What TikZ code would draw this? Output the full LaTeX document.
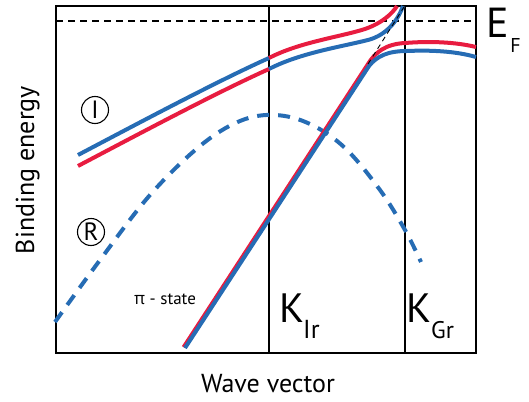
\documentclass[tikz,border=0pt]{standalone}
\usepackage{fontspec}
\setmainfont{PT Sans}
\newfontfamily\grkfont{Open Sans}
\definecolor{bandred}{RGB}{232,28,64}
\definecolor{bandblue}{RGB}{38,108,180}
\begin{document}
\begin{tikzpicture}[x=1pt,y=-1pt,
  band/.style={line width=4pt},
  frameline/.style={line width=2pt},
  kline/.style={line width=1.1pt},
  fermi/.style={line width=2pt, dash pattern=on 7pt off 5pt},
  guide/.style={line width=0.9pt, dash pattern=on 5pt off 4pt},
  surfdash/.style={bandblue, line width=4pt, dash pattern=on 12pt off 9pt},
  circled/.style={circle, draw, line width=1.1pt, minimum size=27pt, inner sep=0pt, font=\fontsize{25}{25}\selectfont},
  lbl/.style={inner sep=0pt}]
\useasboundingbox (0,0) rectangle (529,401);
% frame
\coordinate (tl) at (56,6);
\coordinate (br) at (476,353);
\draw[frameline] (tl) rectangle (br);
% K lines
\coordinate (kirT) at (269,6);
\coordinate (kirB) at (269,353);
\coordinate (kgrT) at (405,6);
\coordinate (kgrB) at (405,353);
\draw[kline] (kirT) -- (kirB);
\draw[kline] (kgrT) -- (kgrB);
% Fermi level
\coordinate (efL) at (56,21);
\coordinate (efR) at (476,21);
\draw[fermi] (efL) -- (efR);
% surface state (dashed)
\draw[surfdash] plot[smooth, tension=0.6] coordinates {(55,322) (100,260) (150,195) (200,146) (240,121) (275,115) (310,124) (345,148) (380,190) (405,230) (421,262)};
% upper bands
\draw[bandred, band] (78,166) .. controls (150,128) and (220,91) .. (269,69);
\draw[bandblue, band] (78,155) .. controls (150,117) and (220,80) .. (269,58);
\draw[bandred, band] (269,58) .. controls (300,42) and (340,37) .. (365,29) .. controls (382,23) and (392,14) .. (397,6);
\draw[bandblue, band] (269,69) .. controls (300,53) and (340,47) .. (368,40) .. controls (387,35) and (398,20) .. (403,6);
% pi-state bands
\draw[bandred, band] (183.6,347.2) -- (367.4,65) .. controls (375,52) and (386,44) .. (405,43) .. controls (430,41) and (455,42) .. (476,47);
\draw[bandblue, band] (185,348) -- (369,66) .. controls (377,56) and (388,51) .. (407,51) .. controls (430,50) and (455,51) .. (476,57);
% guide dashed line
\coordinate (gA) at (368,64);
\coordinate (gB) at (404,7);
\draw[guide] (gA) -- (gB);
% labels
\node[lbl, anchor=base] (E) at (498,38) {\fontsize{42}{42}\selectfont E};
\node[lbl, anchor=base] (Fsub) at (515.5,53) {\fontsize{20}{20}\selectfont F};
\node[lbl, anchor=base west] (Kir) at (279,322) {\fontsize{41}{41}\selectfont K};
\node[lbl, anchor=base west] (Irsub) at (303,338) {\fontsize{26}{26}\selectfont Ir};
\node[lbl, anchor=base west] (Kgr) at (406,322) {\fontsize{41}{41}\selectfont K};
\node[lbl, anchor=base west] (Grsub) at (431,338) {\fontsize{24}{24}\selectfont Gr};
\node[lbl, anchor=base] (pi) at (165,304) {\fontsize{17}{17}\selectfont{\grkfont π} - state};
\node[circled] (cI) at (95,110) {I};
\node[circled] (cR) at (91,232) {R};
\node[lbl, anchor=base] (wv) at (268,392) {\fontsize{26}{26}\selectfont Wave vector};
\node[lbl, anchor=base, rotate=90] (be) at (34,170) {\fontsize{26}{26}\selectfont Binding energy};
\end{tikzpicture}
\end{document}
